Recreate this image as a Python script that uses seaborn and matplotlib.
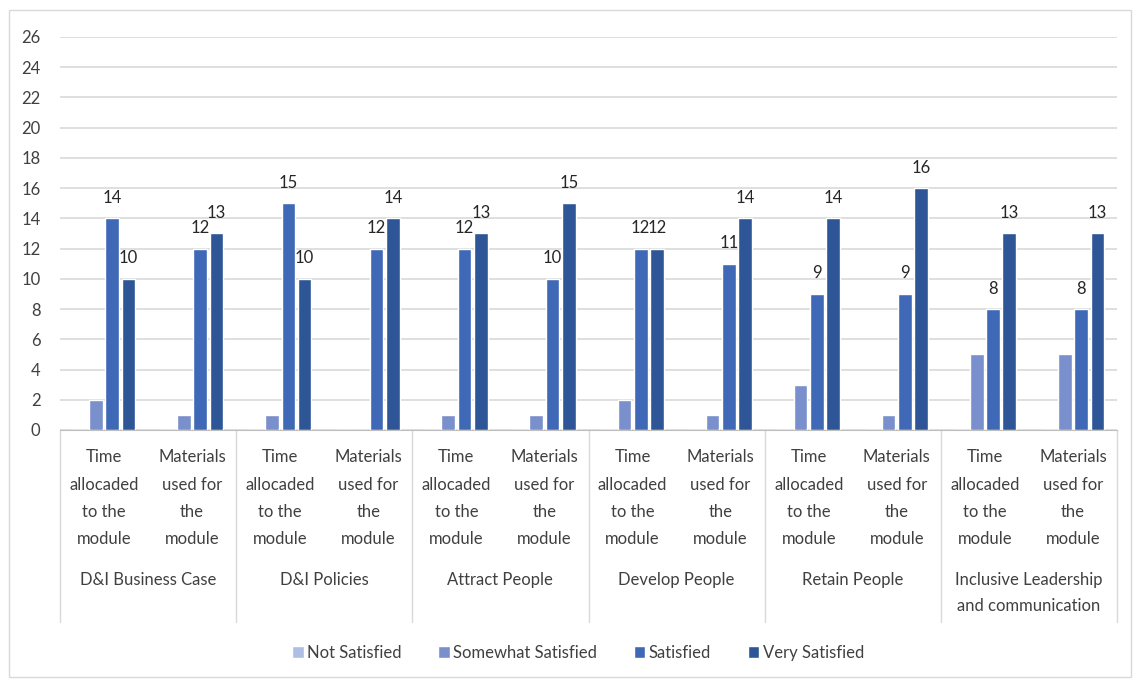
import numpy as np
import pandas as pd
import seaborn as sns
import matplotlib.pyplot as plt
from matplotlib.patches import Rectangle
import matplotlib.transforms as mtransforms

modules = ['D&I Business Case', 'D&I Policies', 'Attract People', 'Develop People',
           'Retain People', 'Inclusive Leadership\nand communication']
aspects = ['Time\nallocaded\nto the\nmodule', 'Materials\nused for\nthe\nmodule']
series = ['Not Satisfied', 'Somewhat Satisfied', 'Satisfied', 'Very Satisfied']
colors = ['#AFBFE3', '#7A90CC', '#3F69B7', '#2E5697']

not_satisfied = [0, 0, 0, 0, 0, 0, 0, 0, 0, 0, 0, 0]
somewhat_satisfied = [2, 1, 1, 0, 1, 1, 2, 1, 3, 1, 5, 5]
satisfied = [14, 12, 15, 12, 12, 10, 12, 11, 9, 9, 8, 8]
very_satisfied = [10, 13, 10, 14, 13, 15, 12, 14, 14, 16, 13, 13]

n_cat = len(modules) * len(aspects)
rows = []
for name, vals in zip(series, [not_satisfied, somewhat_satisfied, satisfied, very_satisfied]):
    for i, v in enumerate(vals):
        rows.append({'cat': i, 'series': name, 'value': v})
df = pd.DataFrame(rows)

sns.set_style('white')
plt.rcParams['font.family'] = ['Lato', 'DejaVu Sans']
text_col = '#404040'

fig = plt.figure(figsize=(11.33, 6.79), dpi=100)
ax = fig.add_axes([60 / 1133, 1 - 430 / 679, 1057 / 1133, 393 / 679])

sns.barplot(data=df, x='cat', y='value', hue='series', hue_order=series,
            palette=colors, width=0.74, gap=0.16, ax=ax, errorbar=None, saturation=1)

# value labels only on the two satisfied series
for c in ax.containers[2:]:
    ax.bar_label(c, fontsize=12, color='#262626', padding=9)

ax.set_ylim(0, 26)
ax.set_xlim(-0.5, n_cat - 0.5)
ax.set_yticks(range(0, 27, 2))
ax.yaxis.grid(True, color='#D9D9D9', linewidth=1.2)
ax.set_axisbelow(True)
for s in ['top', 'right', 'left']:
    ax.spines[s].set_visible(False)
ax.spines['bottom'].set_color('#BFBFBF')
ax.set_xlabel('')
ax.set_ylabel('')
ax.set_xticks(range(n_cat))
ax.set_xticklabels(aspects * len(modules), fontsize=12, color=text_col, linespacing=1.86)
ax.tick_params(axis='x', length=0, pad=14)
ax.tick_params(axis='y', length=0, pad=14, labelsize=12, labelcolor=text_col)

# group separators and module labels
trans = mtransforms.blended_transform_factory(ax.transData, ax.transAxes)
for k in range(len(modules) + 1):
    xb = 2 * k - 0.5
    ax.plot([xb, xb], [0, -192 / 393], transform=trans, color='#D9D9D9',
            linewidth=1, clip_on=False)
for k, m in enumerate(modules):
    ax.text(2 * k + 0.5, -142 / 393, m, transform=trans, ha='center', va='top',
            fontsize=12, color=text_col, linespacing=1.75)

handles, labels = ax.get_legend_handles_labels()
ax.get_legend().remove()
fig.legend(handles, labels, loc='center', bbox_to_anchor=(0.51, 1 - 653 / 679), ncol=4,
           frameon=False, fontsize=12, handlelength=0.7, handleheight=0.7,
           handletextpad=0.2, columnspacing=2.2, labelcolor=text_col)

fig.patches.append(Rectangle((9 / 1133, 2 / 679), 1122 / 1133, 667 / 679,
                             transform=fig.transFigure, fill=False,
                             edgecolor='#D9D9D9', linewidth=1))

fig.savefig('out.png', dpi=100)
